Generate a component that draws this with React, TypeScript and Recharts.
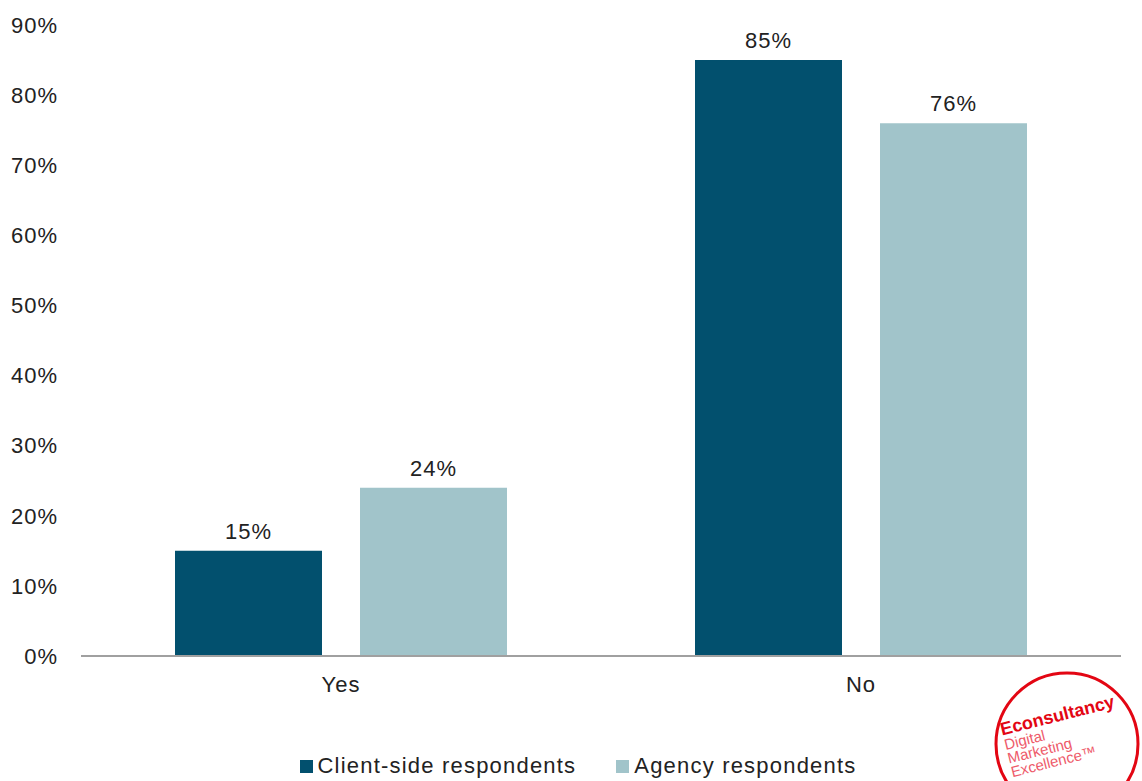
import { BarChart, Bar, XAxis, YAxis, LabelList, Legend } from 'recharts';

const categories = ['Yes', 'No'];
const clientSide = [15, 85];
const agency = [24, 76];
const yTicks = [0, 10, 20, 30, 40, 50, 60, 70, 80, 90];

const seriesNames = ['Client-side respondents', 'Agency respondents'];
const seriesColors = ['#02506E', '#A1C4CA'];

const data = categories.map((c, i) => ({ name: c, client: clientSide[i], agency: agency[i] }));

const FONT = '"Liberation Sans", Arial, sans-serif';
const textStyle = { fontSize: 22, fill: '#222', fontFamily: FONT, letterSpacing: 1 };

function LegendBox() {
  return (
    <div style={{ display: 'flex', justifyContent: 'center', gap: 40, fontFamily: FONT, fontSize: 22, color: '#222', letterSpacing: 1.2, paddingLeft: 14 }}>
      {seriesNames.map((n, i) => (
        <div key={n} style={{ display: 'flex', alignItems: 'center' }}>
          <span style={{ display: 'inline-block', width: 13, height: 13, background: seriesColors[i], marginRight: 5 }} />
          <span>{n}</span>
        </div>
      ))}
    </div>
  );
}

function Logo() {
  return (
    <svg width={1142} height={781} style={{ position: 'absolute', left: 0, top: 0, pointerEvents: 'none' }}>
      <circle cx={1067} cy={744} r={71} fill="#fff" stroke="#E30613" strokeWidth={3} />
      <g transform="rotate(-14 1067 744)" fill="#E30613" fontFamily={FONT}>
        <text x={1006} y={720} fontSize={18} fontWeight="bold">Econsultancy</text>
        <text x={1006} y={735} fontSize={15} fill="#EE5A6A">Digital</text>
        <text x={1006} y={749} fontSize={15} fill="#EE5A6A">Marketing</text>
        <text x={1006} y={763} fontSize={15} fill="#EE5A6A">Excellence™</text>
      </g>
    </svg>
  );
}

export default function App() {
  return (
    <div style={{ position: 'absolute', left: 0, top: 0, width: 1142, height: 781, background: '#fff' }}>
      <BarChart
        width={1142}
        height={781}
        data={data}
        margin={{ top: 25, right: 21, left: 21, bottom: 69 }}
        barCategoryGap="18%"
        barGap={38}
      >
        <XAxis
          dataKey="name"
          axisLine={{ stroke: '#A0A0A0', strokeWidth: 2 }}
          tickLine={false}
          tickSize={0}
          tickMargin={20}
          tick={textStyle}
        />
        <YAxis
          width={60}
          domain={[0, 90]}
          ticks={yTicks}
          axisLine={false}
          tickLine={false}
          tickSize={0}
          tickMargin={23}
          tickFormatter={(v) => `${v}%`}
          tick={textStyle}
        />
        <Legend verticalAlign="bottom" wrapperStyle={{ bottom: 2 }} content={<LegendBox />} />
        <Bar dataKey="client" name={seriesNames[0]} fill={seriesColors[0]} barSize={147} isAnimationActive={false}>
          <LabelList dataKey="client" position="top" offset={12} formatter={(v: number) => `${v}%`} style={textStyle} />
        </Bar>
        <Bar dataKey="agency" name={seriesNames[1]} fill={seriesColors[1]} barSize={147} isAnimationActive={false}>
          <LabelList dataKey="agency" position="top" offset={12} formatter={(v: number) => `${v}%`} style={textStyle} />
        </Bar>
      </BarChart>
      <Logo />
    </div>
  );
}
